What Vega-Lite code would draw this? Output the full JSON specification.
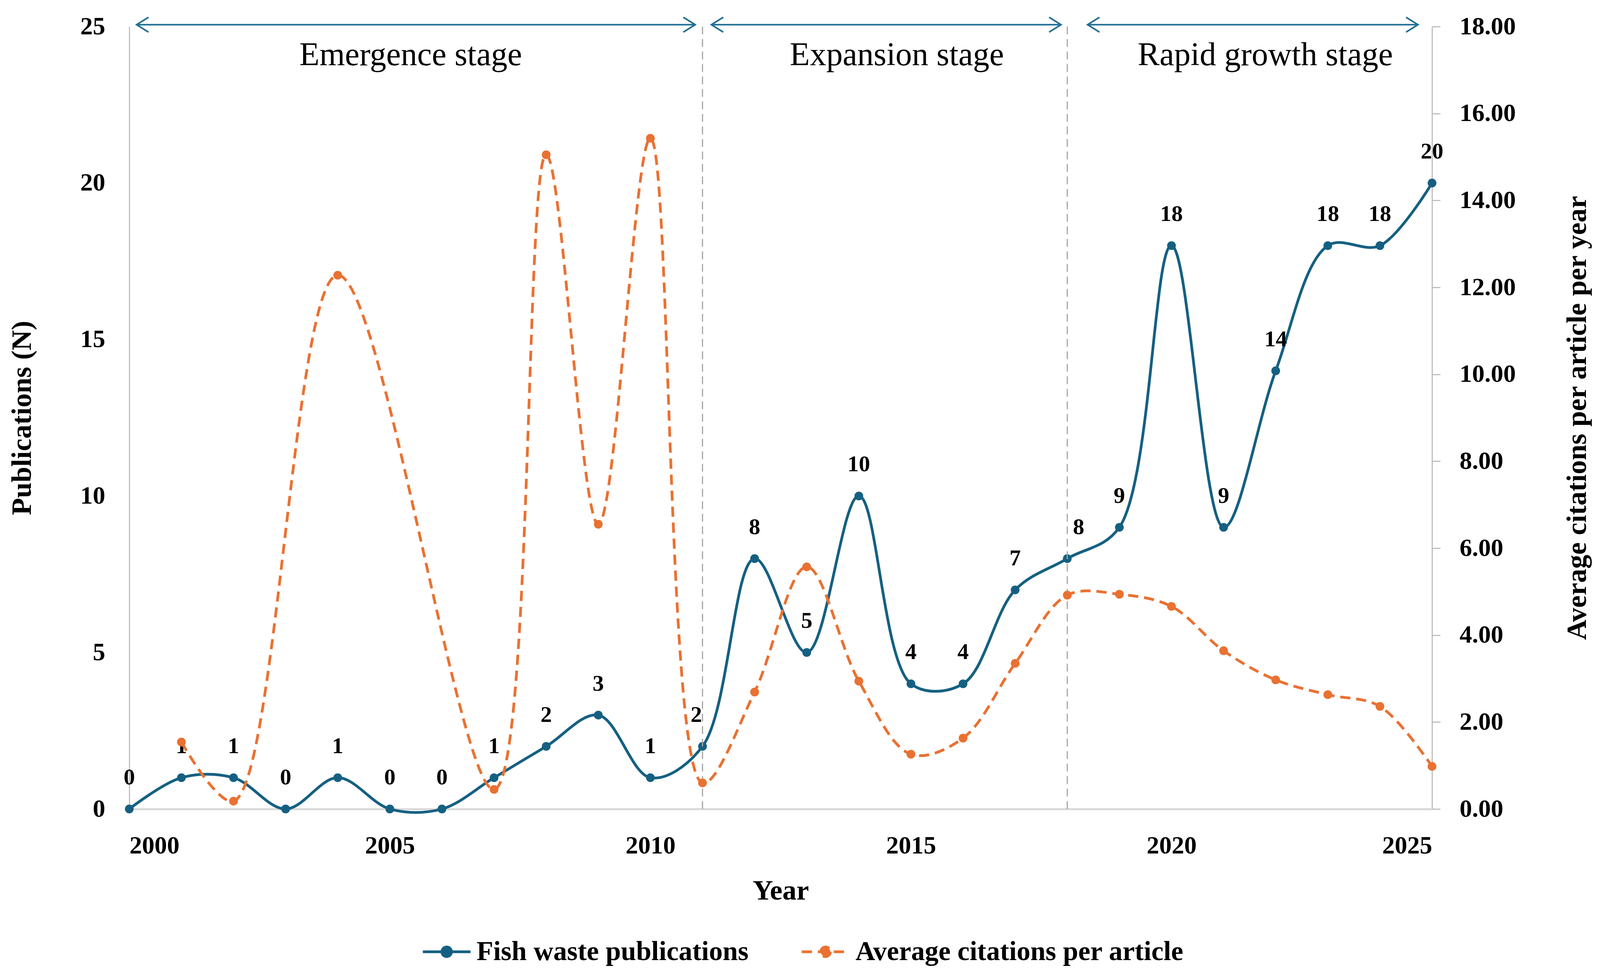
{
  "$schema": "https://vega.github.io/schema/vega-lite/v6.json",
  "description": "Fish waste publications and average citations per article, 2000-2025, with three stages",
  "width": 3335,
  "height": 2004,
  "autosize": {"type": "none"},
  "padding": {"left": 331, "top": 68, "right": 611, "bottom": 438},
  "background": "white",
  "config": {
    "view": {"stroke": null},
    "font": "Liberation Serif",
    "axis": {
      "labelFont": "Liberation Serif",
      "labelFontWeight": "bold",
      "labelFontSize": 64,
      "labelColor": "#000000",
      "titleFont": "Liberation Serif",
      "titleFontWeight": "bold",
      "titleFontSize": 72,
      "titleColor": "#000000",
      "grid": false,
      "domainColor": "#BFBFBF",
      "domainWidth": 3,
      "tickColor": "#BFBFBF",
      "tickWidth": 3
    },
    "axisRight": {"ticks": true, "tickSize": 21, "labelPadding": 49}
  },
  "datasets": {
    "yearly": [
      {"year": 2000, "pubs": 0, "cites": null},
      {"year": 2001, "pubs": 1, "cites": 1.54},
      {"year": 2002, "pubs": 1, "cites": 0.18},
      {"year": 2003, "pubs": 0, "cites": null},
      {"year": 2004, "pubs": 1, "cites": 12.28},
      {"year": 2005, "pubs": 0, "cites": null},
      {"year": 2006, "pubs": 0, "cites": null},
      {"year": 2007, "pubs": 1, "cites": 0.45},
      {"year": 2008, "pubs": 2, "cites": 15.05},
      {"year": 2009, "pubs": 3, "cites": 6.55},
      {"year": 2010, "pubs": 1, "cites": 15.43},
      {"year": 2011, "pubs": 2, "cites": 0.6},
      {"year": 2012, "pubs": 8, "cites": 2.69},
      {"year": 2013, "pubs": 5, "cites": 5.57},
      {"year": 2014, "pubs": 10, "cites": 2.94},
      {"year": 2015, "pubs": 4, "cites": 1.26},
      {"year": 2016, "pubs": 4, "cites": 1.63},
      {"year": 2017, "pubs": 7, "cites": 3.35},
      {"year": 2018, "pubs": 8, "cites": 4.92},
      {"year": 2019, "pubs": 9, "cites": 4.94},
      {"year": 2020, "pubs": 18, "cites": 4.66},
      {"year": 2021, "pubs": 9, "cites": 3.64},
      {"year": 2022, "pubs": 14, "cites": 2.97},
      {"year": 2023, "pubs": 18, "cites": 2.63},
      {"year": 2024, "pubs": 18, "cites": 2.36},
      {"year": 2025, "pubs": 20, "cites": 0.98}
    ],
    "stages": [
      {"stage": "Emergence stage", "start": 2000.14, "end": 2010.86, "mid": 2005.4},
      {"stage": "Expansion stage", "start": 2011.17, "end": 2017.88, "mid": 2014.73},
      {"stage": "Rapid growth stage", "start": 2018.39, "end": 2024.73, "mid": 2021.8}
    ],
    "dividers": [{"year": 2011}, {"year": 2018}]
  },
  "layer": [
    {
      "layer": [
        {
          "data": {"name": "yearly"},
          "mark": {"type": "line", "interpolate": "catmull-rom", "strokeWidth": 7},
          "encoding": {
            "x": {
              "field": "year",
              "type": "quantitative",
              "scale": {"domain": [2000, 2025], "nice": false, "zero": false},
              "axis": {
                "values": [2000, 2005, 2010, 2015, 2020, 2025],
                "format": "d",
                "ticks": false,
                "labelPadding": 62,
                "titlePadding": 48,
                "domainColor": "#D9D9D9",
                "domainWidth": 5
              },
              "title": "Year"
            },
            "y": {
              "field": "pubs",
              "type": "quantitative",
              "scale": {"domain": [0, 25], "nice": false},
              "axis": {
                "values": [0, 5, 10, 15, 20, 25],
                "format": "d",
                "ticks": false,
                "labelPadding": 62,
                "titlePadding": 112
              },
              "title": "Publications (N)"
            },
            "color": {
              "datum": "Fish waste publications",
              "type": "nominal",
              "scale": {
                "domain": ["Fish waste publications", "Average citations per article"],
                "range": ["#156082", "#E97132"]
              },
              "legend": {
                "orient": "none",
                "legendX": 748,
                "legendY": 2305,
                "direction": "horizontal",
                "title": null,
                "padding": 0,
                "symbolType": "M-1,0L1,0M0.2,0A0.2,0.2,0,1,1,-0.2,0A0.2,0.2,0,1,1,0.2,0Z",
                "symbolSize": 14884,
                "symbolStrokeWidth": 7,
                "labelFont": "Liberation Serif",
                "labelFontWeight": "bold",
                "labelFontSize": 70,
                "labelColor": "#000000",
                "labelOffset": 12,
                "labelLimit": 2000,
                "columnPadding": 121,
                "encode": {
                  "symbols": {
                    "update": {
                      "fill": {"scale": "color", "field": "value"},
                      "stroke": {"scale": "color", "field": "value"},
                      "strokeDash": {"signal": "datum.value === 'Average citations per article' ? [26, 15] : [1, 0]"}
                    }
                  }
                }
              }
            }
          }
        },
        {
          "data": {"name": "yearly"},
          "mark": {"type": "point", "filled": true, "size": 500, "opacity": 1, "color": "#156082"},
          "encoding": {
            "x": {"field": "year", "type": "quantitative"},
            "y": {"field": "pubs", "type": "quantitative"}
          }
        },
        {
          "data": {"name": "yearly"},
          "transform": [{"filter": "datum.year !== 2011 && datum.year !== 2018"}],
          "mark": {"type": "text", "font": "Liberation Serif", "fontWeight": "bold", "fontSize": 58, "baseline": "middle", "dy": -80, "color": "#000000"},
          "encoding": {
            "x": {"field": "year", "type": "quantitative"},
            "y": {"field": "pubs", "type": "quantitative"},
            "text": {"field": "pubs", "type": "quantitative"}
          }
        },
        {
          "data": {"name": "yearly"},
          "transform": [{"filter": "datum.year === 2011"}],
          "mark": {"type": "text", "font": "Liberation Serif", "fontWeight": "bold", "fontSize": 58, "baseline": "middle", "dx": -16, "dy": -80, "color": "#000000"},
          "encoding": {
            "x": {"field": "year", "type": "quantitative"},
            "y": {"field": "pubs", "type": "quantitative"},
            "text": {"field": "pubs", "type": "quantitative"}
          }
        },
        {
          "data": {"name": "yearly"},
          "transform": [{"filter": "datum.year === 2018"}],
          "mark": {"type": "text", "font": "Liberation Serif", "fontWeight": "bold", "fontSize": 58, "baseline": "middle", "dx": 29, "dy": -80, "color": "#000000"},
          "encoding": {
            "x": {"field": "year", "type": "quantitative"},
            "y": {"field": "pubs", "type": "quantitative"},
            "text": {"field": "pubs", "type": "quantitative"}
          }
        },
        {
          "data": {"name": "dividers"},
          "mark": {"type": "rule", "color": "#A6A6A6", "strokeWidth": 3, "strokeDash": [20, 12]},
          "encoding": {
            "x": {"field": "year", "type": "quantitative"},
            "y": {"datum": 0},
            "y2": {"datum": 25}
          }
        },
        {
          "data": {"name": "stages"},
          "mark": {"type": "rule", "color": "#1F6E94", "strokeWidth": 4},
          "encoding": {
            "x": {"field": "start", "type": "quantitative"},
            "x2": {"field": "end"},
            "y": {"datum": 25.06}
          }
        },
        {
          "data": {"name": "stages"},
          "mark": {"type": "point", "shape": "M1.6,-1L0,0L1.6,1", "size": 1444, "filled": false, "strokeWidth": 4, "color": "#1F6E94", "opacity": 1},
          "encoding": {
            "x": {"field": "start", "type": "quantitative"},
            "y": {"datum": 25.06}
          }
        },
        {
          "data": {"name": "stages"},
          "mark": {"type": "point", "shape": "M-1.6,-1L0,0L-1.6,1", "size": 1444, "filled": false, "strokeWidth": 4, "color": "#1F6E94", "opacity": 1},
          "encoding": {
            "x": {"field": "end", "type": "quantitative"},
            "y": {"datum": 25.06}
          }
        },
        {
          "data": {"name": "stages"},
          "mark": {"type": "text", "font": "Liberation Serif", "fontSize": 84, "baseline": "alphabetic", "align": "center", "color": "#000000"},
          "encoding": {
            "x": {"field": "mid", "type": "quantitative"},
            "y": {"datum": 23.77},
            "text": {"field": "stage", "type": "nominal"}
          }
        }
      ]
    },
    {
      "data": {"name": "yearly"},
      "transform": [{"filter": "isValid(datum.cites)"}],
      "encoding": {
        "x": {"field": "year", "type": "quantitative"},
        "y": {
          "field": "cites",
          "type": "quantitative",
          "scale": {"domain": [0, 18], "nice": false},
          "axis": {
            "orient": "right",
            "values": [0, 2, 4, 6, 8, 10, 12, 14, 16, 18],
            "format": ".2f",
            "ticks": true,
            "tickSize": 21,
            "labelPadding": 49,
            "titleAngle": 270,
            "titleBaseline": "top",
            "titlePadding": 136
          },
          "title": "Average citations per article per year"
        }
      },
      "layer": [
        {
          "mark": {"type": "line", "interpolate": "catmull-rom", "strokeWidth": 7, "strokeDash": [26, 15]},
          "encoding": {
            "color": {"datum": "Average citations per article", "type": "nominal"}
          }
        },
        {
          "mark": {"type": "point", "filled": true, "size": 500, "opacity": 1, "color": "#E97132"}
        }
      ]
    }
  ],
  "resolve": {"scale": {"y": "independent"}}
}
